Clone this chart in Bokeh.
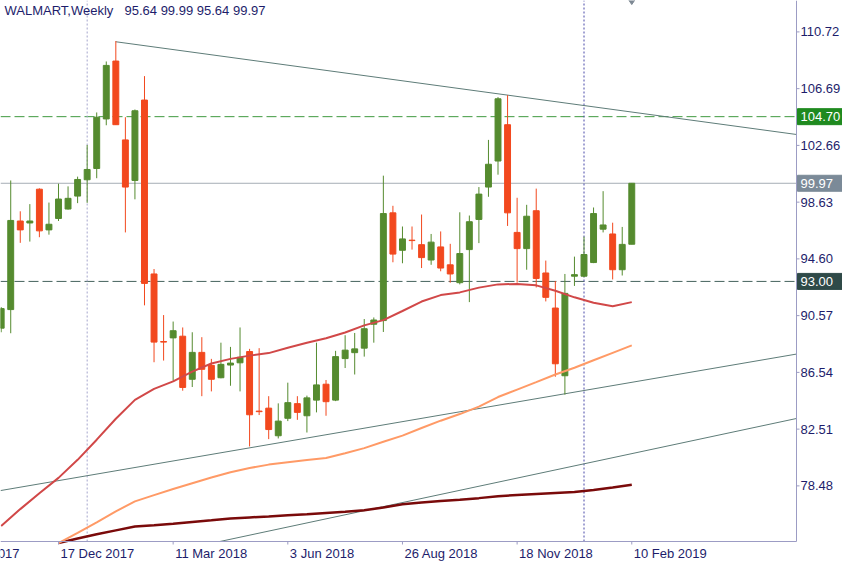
import pandas as pd
from bokeh.plotting import figure
from bokeh.models import Range1d, ColumnDataSource
from bokeh.embed import file_html
from bokeh.resources import INLINE
from bokeh.core.properties import value

# ---------------- data ----------------
first_week = "2017-11-05"          # weekly bars, Sunday start
opens = [89.68, 91.00, 97.29, 97.15, 99.55, 96.66, 97.47, 98.14, 99.06, 100.22,
         101.02, 104.54, 108.65, 103.05, 100.17, 105.88, 93.53, 88.73, 88.99, 89.11,
         86.05, 87.96, 87.04, 86.16, 87.06, 87.22, 88.02, 83.79, 84.00, 82.04,
         83.28, 84.32, 83.46, 84.57, 85.70, 84.57, 87.52, 87.94, 88.26, 89.96,
         90.22, 97.87, 95.21, 95.93, 95.61, 94.52, 95.45, 94.18, 92.91, 95.26,
         97.40, 99.70, 101.55, 104.13, 96.48, 95.33, 98.02, 93.60, 91.11, 86.30,
         93.37, 93.37, 94.34, 96.71, 96.37, 93.83, 95.64]
highs = [91.18, 100.17, 97.98, 98.49, 99.61, 98.60, 99.94, 99.75, 100.44, 102.69,
         105.00, 108.62, 110.07, 104.66, 105.21, 107.58, 93.88, 90.61, 90.15, 89.73,
         89.39, 89.04, 87.50, 88.65, 88.35, 89.73, 88.21, 88.26, 84.85, 84.34,
         85.81, 84.85, 84.89, 88.65, 86.00, 88.07, 89.18, 89.34, 90.33, 90.44,
         100.51, 98.37, 96.90, 96.90, 97.75, 96.37, 96.55, 95.67, 97.91, 97.68,
         99.70, 103.05, 106.09, 106.23, 98.94, 98.44, 99.59, 94.48, 93.03, 93.53,
         94.76, 96.18, 98.25, 99.41, 97.17, 96.87, 99.99]
lows = [89.39, 89.32, 95.74, 95.83, 96.14, 96.32, 97.29, 98.10, 98.56, 98.58,
        100.33, 104.09, 104.11, 96.48, 98.83, 91.30, 87.26, 87.38, 85.95, 85.24,
        85.50, 84.85, 85.19, 86.12, 85.59, 85.19, 81.28, 83.51, 81.80, 81.85,
        83.08, 83.17, 82.27, 83.70, 83.46, 84.50, 86.85, 86.39, 87.66, 88.65,
        89.41, 94.36, 94.29, 95.26, 93.95, 94.18, 93.72, 92.91, 92.79, 91.53,
        95.72, 99.01, 100.58, 96.94, 92.91, 93.83, 92.57, 91.58, 86.23, 84.96,
        92.68, 93.30, 94.30, 96.48, 93.14, 93.42, 95.64]
closes = [91.07, 97.33, 96.66, 97.29, 96.59, 97.06, 98.85, 98.90, 100.24, 100.95,
          104.66, 108.34, 104.13, 99.70, 105.12, 92.86, 88.69, 88.69, 89.50, 85.47,
          87.96, 86.76, 86.05, 87.11, 87.20, 87.61, 83.53, 83.75, 82.48, 83.08,
          84.39, 83.70, 84.73, 85.65, 84.46, 87.66, 88.12, 88.21, 89.64, 90.26,
          97.82, 94.94, 96.02, 95.90, 94.69, 95.79, 93.95, 93.53, 94.98, 97.24,
          99.20, 101.32, 105.97, 97.87, 95.33, 97.63, 93.21, 91.87, 87.15, 92.15,
          93.48, 94.91, 97.82, 97.01, 93.83, 95.63, 99.97]

# moving averages, read every second week
ma_red_start = "2017-11-05"
ma_red = [75.63, 76.83, 77.96, 79.05, 80.33, 81.76, 83.25, 84.59, 85.37, 85.90,
          86.59, 87.17, 87.50, 87.73, 87.91, 88.29, 88.65, 88.96, 89.37, 89.88,
          90.25, 90.90, 91.57, 92.03, 92.22, 92.56, 92.79, 92.82, 92.72, 92.34,
          91.87, 91.48, 91.23, 91.53]
ma_slow_start = "2017-12-17"
ma_orange = [74.42, 75.14, 75.89, 76.67, 77.38, 77.82, 78.26, 78.67, 79.07, 79.45,
             79.75, 79.99, 80.15, 80.31, 80.46, 80.80, 81.16, 81.61, 82.05, 82.59,
             83.11, 83.58, 84.11, 84.79, 85.32, 85.85, 86.39, 86.87, 87.40, 87.93,
             88.46]
ma_maroon = [74.42, 74.74, 75.04, 75.32, 75.59, 75.68, 75.79, 75.92, 76.04, 76.17,
             76.24, 76.31, 76.39, 76.47, 76.56, 76.65, 76.75, 76.94, 77.17, 77.30,
             77.40, 77.50, 77.61, 77.74, 77.84, 77.91, 77.98, 78.05, 78.19, 78.37,
             78.56]

# trend lines: two anchor points each (date, price)
trend_top_dates = ["2018-01-28", "2018-11-11"]
trend_top_prices = [110.02, 106.23]
trend_low1_dates = ["2018-05-06", "2018-12-23"]
trend_low1_prices = [81.18, 85.02]
trend_low2_dates = ["2018-05-06", "2019-02-10"]
trend_low2_prices = [74.98, 80.77]

level_resist = 104.70
level_support = 93.00
last_price = 99.97
marker_date = "2019-02-10"
marker_price = 113.05

y_ticks = [78.48, 82.51, 86.54, 90.57, 94.60, 98.63, 102.66, 106.69, 110.72]
date_ticks = ["2017-09-24", "2017-12-17", "2018-03-11", "2018-06-03",
              "2018-08-26", "2018-11-18", "2019-02-10"]
date_labels = ["24 Sep 2017", "17 Dec 2017", "11 Mar 2018", "3 Jun 2018",
               "26 Aug 2018", "18 Nov 2018", "10 Feb 2019"]
separators = ["2018-01-07", "2019-01-06"]
title_name = "WALMART,Weekly"
title_ohlc = "95.64 99.99 95.64 99.97"

# ---------------- layout ----------------
W, H = 842, 561          # figure size
PW, PH = 796, 541        # price area size (px) inside the figure
T0 = pd.Timestamp(first_week)


def wk(d):
    return (pd.Timestamp(d) - T0).days / 7.0


X0, X1 = -0.07, 83.24    # visible weeks of the price area
Y0, Y1 = 74.53, 112.95   # visible prices of the price area
DX = (X1 - X0) / PW      # data units per pixel
DY = (Y1 - Y0) / PH

GREEN = "#558b2f"
RED = "#f2481e"
NAVY = "#1d1d6b"
AXIS = "#9c9cc4"
FONT = "Liberation Sans"

p = figure(width=W, height=H,
           x_range=Range1d(X0, X0 + W * DX), y_range=Range1d(Y1 - H * DY, Y1),
           output_backend="svg", toolbar_location=None,
           x_axis_location=None, y_axis_location=None, min_border=0)
p.outline_line_color = None
p.grid.visible = False
p.background_fill_color = "white"

# ---- background levels and separators ----
p.line([X0, X1], [level_resist] * 2, line_color="#3f9a3f", line_dash="10 4", line_width=1)
p.line([X0, X1], [level_support] * 2, line_color="#45625d", line_dash="10 4", line_width=1)
p.line([X0, X1], [last_price] * 2, line_color="#a6adb5", line_width=1)
p.line([wk(separators[0])] * 2, [Y0, Y1], line_color="#a4a4cc", line_dash="2 2", line_width=1)
p.line([wk(separators[1])] * 2, [Y0, Y1], line_color="#4848a8", line_dash="2 2", line_width=1)


# ---- trend lines (clipped to the price area) ----
def trend(dates, prices, start, end):
    xa_, xb_ = wk(dates[0]), wk(dates[1])
    slope = (prices[1] - prices[0]) / (xb_ - xa_)
    f = lambda x: prices[0] + slope * (x - xa_)
    if f(start) < Y0:
        start = xa_ + (Y0 - prices[0]) / slope
    return [start, end], [f(start), f(end)]


TL = "#5e7c78"
for d, pr, s in [(trend_top_dates, trend_top_prices, wk(trend_top_dates[0])),
                 (trend_low1_dates, trend_low1_prices, X0),
                 (trend_low2_dates, trend_low2_prices, X0)]:
    xs, ys = trend(d, pr, s, X1)
    p.line(xs, ys, line_color=TL, line_width=1)

# ---- candles ----
x_bars = [float(i) for i in range(len(opens))]
cols = [GREEN if c > o else RED for o, c in zip(opens, closes)]
src = ColumnDataSource(dict(
    x=x_bars, o=opens, h=highs, l=lows, c=closes, col=cols,
    top=[max(o, c) for o, c in zip(opens, closes)],
    bot=[min(o, c) for o, c in zip(opens, closes)],
))
p.segment(x0="x", y0="l", x1="x", y1="h", line_color="col", line_width=1, source=src)
p.vbar(x="x", width=0.62, top="top", bottom="bot", fill_color="col",
       line_color="col", line_width=1, source=src)

# ---- moving averages ----
xr = [wk(ma_red_start) + 2 * i for i in range(len(ma_red))]
xs_slow = [wk(ma_slow_start) + 2 * i for i in range(len(ma_orange))]
p.line(xs_slow, ma_maroon, line_color="#7a0a0a", line_width=2.5)
p.line(xs_slow, ma_orange, line_color="#ff9a66", line_width=2)
p.line(xr, ma_red, line_color="#d14848", line_width=2)

# marker at the top edge
p.scatter(x=[wk(marker_date)], y=[marker_price], marker="diamond", size=11,
          color="#7d8893")

# ---- right price axis ----
p.line([X1, X1], [Y0, Y1], line_color=AXIS, line_width=1)
p.segment(x0=[X1] * len(y_ticks), y0=y_ticks, x1=[X1 + 3 * DX] * len(y_ticks),
          y1=y_ticks, line_color=AXIS, line_width=1)
p.text(x=[X1 + 4 * DX] * len(y_ticks), y=y_ticks, text=["%.2f" % t for t in y_ticks],
       text_font=value(FONT), text_font_size=value("13px"), text_color=NAVY,
       text_baseline=value("middle"), text_align=value("left"))

# ---- bottom time axis ----
tx = [wk(d) for d in date_ticks]
p.line([X0, X1], [Y0, Y0], line_color=AXIS, line_width=1)
p.segment(x0=tx, y0=[Y0] * len(tx), x1=tx, y1=[Y0 - 3 * DY] * len(tx),
          line_color=AXIS, line_width=1)
p.text(x=[t + 2 * DX for t in tx], y=[Y0 - 4 * DY] * len(tx), text=date_labels,
       text_font=value(FONT), text_font_size=value("13px"), text_color=NAVY,
       text_baseline=value("top"), text_align=value("left"))

# ---- price tags on the right axis ----
tag_levels = [level_resist, last_price, level_support]
tag_colors = ["#1f8a1f", "#7b8a98", "#2f4a48"]
p.rect(x=[X1 + 24 * DX] * 3, y=tag_levels, width=46 * DX, height=16 * DY,
       fill_color=tag_colors, line_color=tag_colors)
p.text(x=[X1 + 4 * DX] * 3, y=tag_levels, text=["%.2f" % v for v in tag_levels],
       text_font=value(FONT), text_font_size=value("13px"), text_color="white",
       text_baseline=value("middle"), text_align=value("left"))

# ---- title ----
p.text(x=[X0 + 4 * DX, X0 + 124 * DX], y=[Y1 - 2 * DY] * 2,
       text=[title_name, title_ohlc],
       text_font=value(FONT), text_font_size=value("13px"), text_color=NAVY,
       text_baseline=value("top"), text_align=value("left"))

open("out.html", "w").write(file_html(p, INLINE))
